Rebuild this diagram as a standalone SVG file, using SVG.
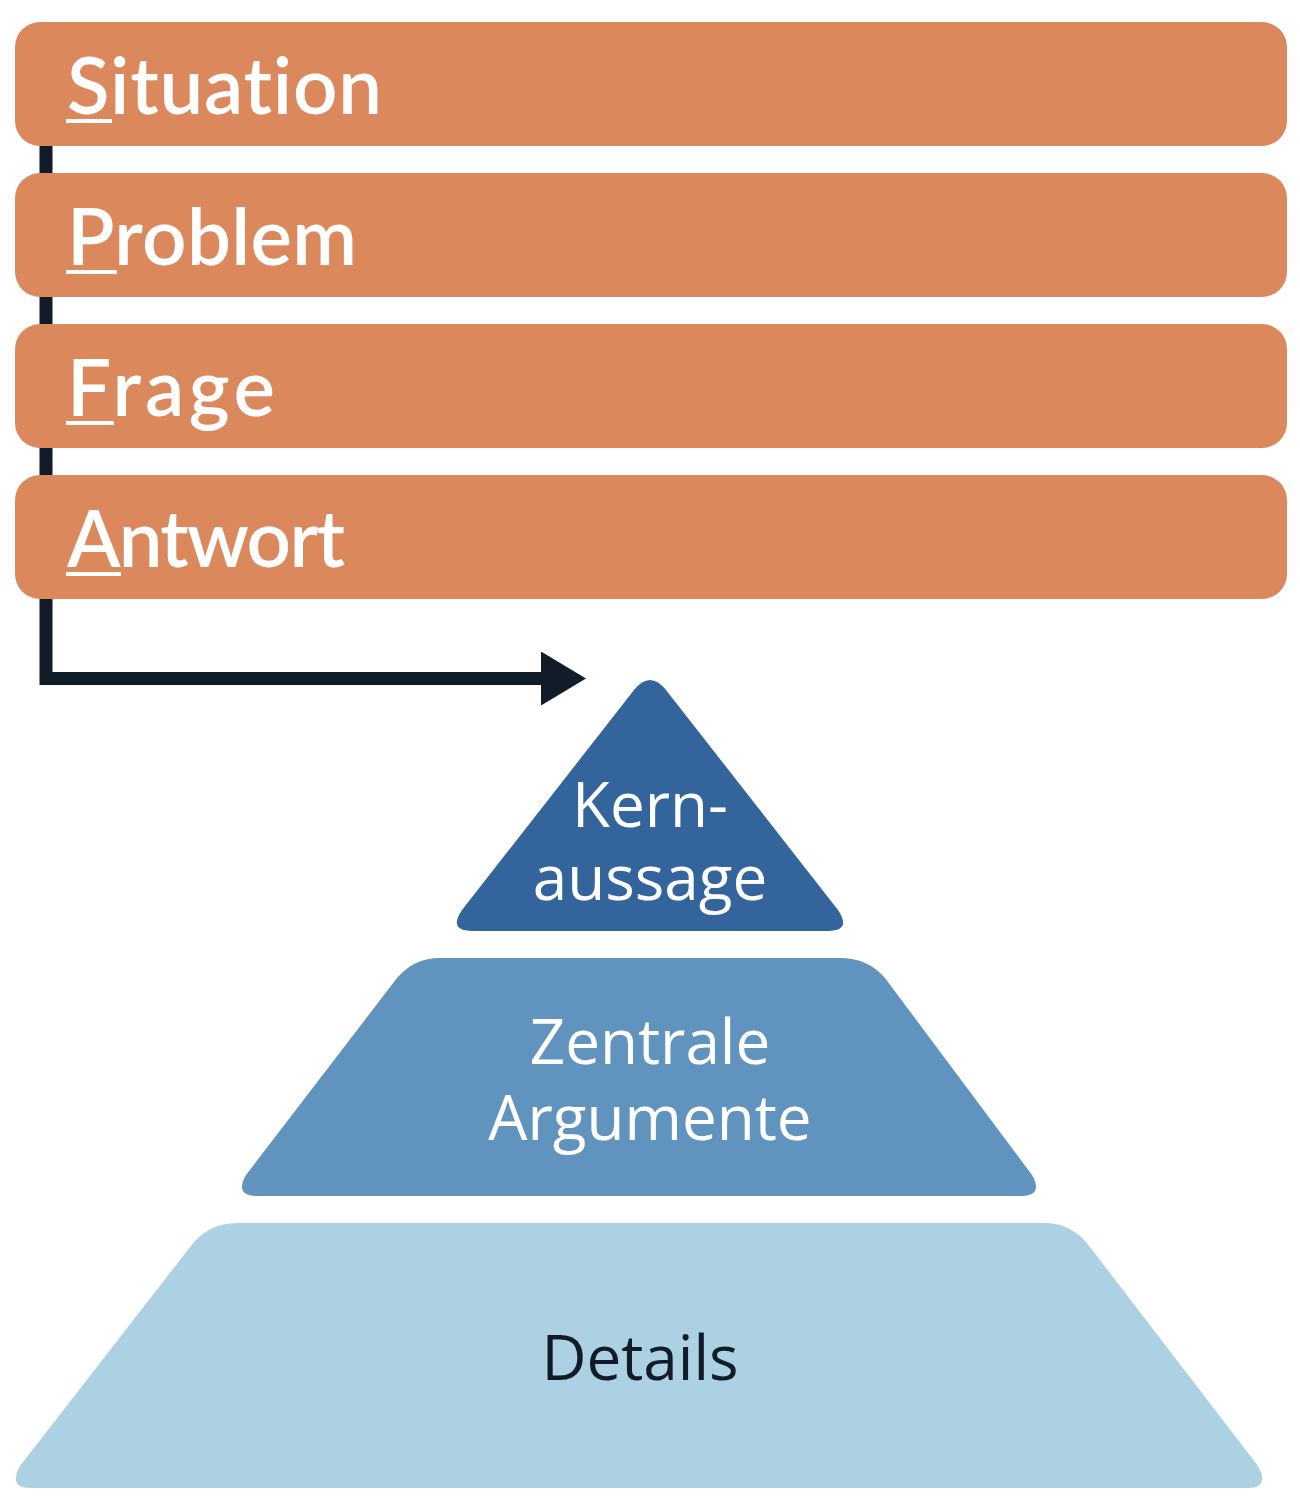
<svg xmlns="http://www.w3.org/2000/svg" width="1300" height="1508" viewBox="0 0 1300 1508">
<defs>
<style>
.bar{fill:#DB885D;}
.ttl{font-family:Lato,"Open Sans","DejaVu Sans",sans-serif;font-size:78px;fill:#FFFFFF;font-weight:600;font-variant-ligatures:none;font-feature-settings:"liga" 0;}
.ul{fill:#FFFFFF;}
.pt{font-family:"Open Sans","Noto Sans","DejaVu Sans",sans-serif;font-size:62px;text-anchor:middle;}
.conn{fill:none;stroke:#111C28;stroke-width:13;}
</style>
<marker id="ah" markerUnits="userSpaceOnUse" markerWidth="50" markerHeight="60" refX="0" refY="27" orient="auto" viewBox="0 0 50 60">
<polygon points="0,0 45,27 0,54" fill="#111C28"/>
</marker>
</defs>
<g id="connectors">
<path class="conn" d="M46,40 L46,678.5 L541,678.5" marker-end="url(#ah)"/>
</g>
<g id="situation">
<rect class="bar" x="15" y="22" width="1272" height="124" rx="25"/>
<text class="ttl" x="67" y="114" textLength="315" lengthAdjust="spacing">Situation</text>
<rect class="ul" x="66" y="119" width="46" height="4"/>
</g>
<g id="problem">
<rect class="bar" x="15" y="173" width="1272" height="124" rx="25"/>
<text class="ttl" x="67" y="265" textLength="290" lengthAdjust="spacing">Problem</text>
<rect class="ul" x="66" y="270" width="51" height="4"/>
</g>
<g id="frage">
<rect class="bar" x="15" y="324" width="1272" height="124" rx="25"/>
<text class="ttl" x="67" y="416" textLength="208" lengthAdjust="spacing">Frage</text>
<rect class="ul" x="66" y="421" width="48" height="4"/>
</g>
<g id="antwort">
<rect class="bar" x="15" y="475" width="1272" height="124" rx="25"/>
<text class="ttl" x="67" y="567" textLength="278" lengthAdjust="spacing">Antwort</text>
<rect class="ul" x="66" y="572" width="55" height="4"/>
</g>
<g id="kernaussage">
<path fill="#33659C" d="M634,690 Q650,670 666,690 L838,910 Q852,931 828,931 L472,931 Q448,931 462,910 Z"/>
<text class="pt" x="650" y="827" fill="#FFFFFF">Kern-</text>
<text class="pt" x="650" y="900" fill="#FFFFFF">aussage</text>
</g>
<g id="zentrale-argumente">
<path fill="#6193BF" d="M440,958 L840,958 Q868,958 885,978 L1032,1175 Q1044,1196 1020,1196 L258,1196 Q234,1196 246,1175 L397,978 Q414,958 440,958 Z"/>
<text class="pt" x="650" y="1064" fill="#FFFFFF">Zentrale</text>
<text class="pt" x="650" y="1140" fill="#FFFFFF">Argumente</text>
</g>
<g id="details">
<path fill="#ABD1E2" d="M237,1223 L1045,1223 Q1072,1223 1090,1247 L1258,1466 Q1270,1488 1248,1488 L30,1488 Q8,1488 20,1466 L190,1247 Q208,1223 237,1223 Z"/>
<text class="pt" x="640" y="1380" fill="#111C28">Details</text>
</g>
</svg>
